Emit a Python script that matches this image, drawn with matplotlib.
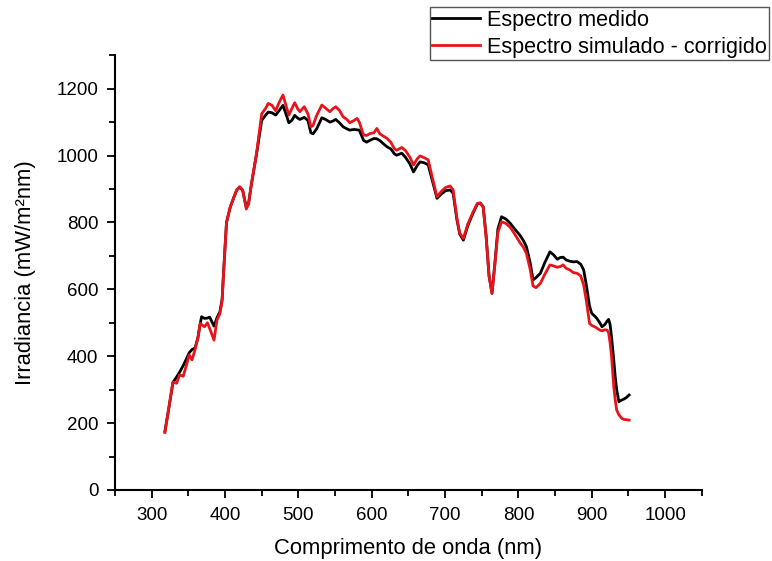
import matplotlib
matplotlib.use("Agg")
import matplotlib.pyplot as plt
from matplotlib.ticker import MultipleLocator

plt.rcParams['font.family'] = ['Liberation Sans', 'DejaVu Sans']

# wavelength (nm)
wavelength = [318, 323, 329, 334, 338, 343, 348, 351, 355, 359, 363, 366, 368, 372, 376, 379,
              385, 389, 393, 396, 398, 402, 407, 412, 416, 420, 424, 429, 432, 436, 443, 450,
              455, 459, 464, 469, 474, 479, 483, 487, 491, 495, 499, 502, 508, 513, 517, 520,
              525, 532, 537, 543, 547, 551, 556, 561, 566, 570, 576, 580, 583, 589, 593, 598,
              603, 607, 611, 616, 621, 626, 631, 634, 641, 646, 652, 657, 662, 666, 672, 677,
              682, 689, 695, 701, 707, 711, 716, 720, 725, 731, 738, 744, 748, 752, 756, 760,
              764, 768, 772, 777, 783, 789, 795, 802, 807, 811, 816, 820, 824, 830, 836, 843,
              848, 853, 857, 861, 865, 870, 875, 880, 885, 889, 893, 897, 900, 904, 907, 911,
              914, 918, 921, 923, 925, 927, 930, 932, 934, 937, 941, 944, 947, 951]

measured = [175, 240, 322, 338, 352, 372, 395, 410, 420, 424, 455, 495, 518, 513, 514, 517,
            490, 515, 533, 570, 650, 800, 845, 875, 897, 905, 896, 845, 855, 915, 1005, 1105,
            1120, 1130, 1128, 1121, 1135, 1150, 1125, 1098, 1105, 1120, 1112, 1108, 1114, 1105, 1068, 1065,
            1080, 1113, 1108, 1100, 1103, 1108, 1098, 1086, 1080, 1076, 1078, 1077, 1076, 1045, 1040, 1046,
            1051, 1050, 1045, 1035, 1026, 1020, 1005, 1001, 1007, 995, 975, 951, 970, 981, 978, 972,
            930, 872, 885, 895, 897, 887, 810, 765, 747, 790, 827, 855, 858, 847, 760, 640,
            588, 680, 780, 817, 810, 797, 780, 762, 745, 727, 680, 628, 635, 648, 680, 712,
            703, 690, 695, 696, 688, 684, 682, 683, 675, 658, 608, 550, 528, 520, 513, 500,
            488, 495, 505, 510, 495, 458, 390, 339, 300, 264, 269, 272, 276, 284]

simulated = [172, 240, 322, 319, 344, 340, 378, 404, 389, 419, 455, 498, 495, 488, 500, 483,
             448, 508, 527, 565, 650, 800, 845, 875, 897, 907, 897, 840, 855, 915, 1007, 1125,
             1140, 1156, 1150, 1134, 1160, 1181, 1150, 1121, 1140, 1158, 1140, 1131, 1146, 1125, 1086, 1090,
             1120, 1151, 1142, 1131, 1140, 1146, 1135, 1116, 1108, 1098, 1105, 1111, 1100, 1061, 1060, 1066,
             1068, 1081, 1065, 1058, 1051, 1040, 1020, 1016, 1024, 1015, 995, 972, 990, 999, 993, 987,
             940, 877, 893, 905, 909, 897, 815, 768, 752, 795, 830, 857, 858, 845, 755, 640,
             588, 675, 770, 802, 797, 785, 765, 740, 725, 707, 660, 610, 605, 618, 645, 673,
             670, 666, 668, 673, 663, 658, 650, 648, 640, 613, 560, 498, 492, 488, 484, 478,
             476, 479, 478, 470, 440, 400, 309, 270, 239, 225, 214, 211, 210, 209]

fig = plt.figure(figsize=(7.72, 5.61), dpi=100)
ax = fig.add_axes([0.149, 0.1266, 0.760, 0.775])

ax.plot(wavelength, measured, color='black', lw=2.0, label='Espectro medido')
ax.plot(wavelength, simulated, color='#e8141c', lw=2.0, label='Espectro simulado - corrigido')

ax.set_xlim(250, 1050)
ax.set_ylim(0, 1300)
ax.xaxis.set_major_locator(MultipleLocator(100))
ax.xaxis.set_minor_locator(MultipleLocator(50))
ax.yaxis.set_major_locator(MultipleLocator(200))
ax.yaxis.set_minor_locator(MultipleLocator(100))
ax.set_xticks(range(300, 1001, 100))

for side in ['top', 'right']:
    ax.spines[side].set_visible(False)
for side in ['left', 'bottom']:
    ax.spines[side].set_linewidth(1.5)

ax.tick_params(which='major', direction='out', length=6, width=1.3, labelsize=13.5, pad=6)
ax.tick_params(which='minor', direction='out', length=4, width=1.3)

ax.set_xlabel('Comprimento de onda (nm)', fontsize=15.8, labelpad=10)
ax.set_ylabel('Irradiancia (mW/m²nm)', fontsize=15.8, labelpad=15)

leg = fig.legend(loc='upper right', bbox_to_anchor=(769 / 772, 1 - 7 / 561),
                 bbox_transform=fig.transFigure, borderaxespad=0, fontsize=15.6,
                 fancybox=False, framealpha=1, edgecolor='#555555', borderpad=0.12,
                 handlelength=2.2, handletextpad=0.3, labelspacing=0.28)
leg.get_frame().set_linewidth(1.0)

fig.savefig('out.png', dpi=100)
